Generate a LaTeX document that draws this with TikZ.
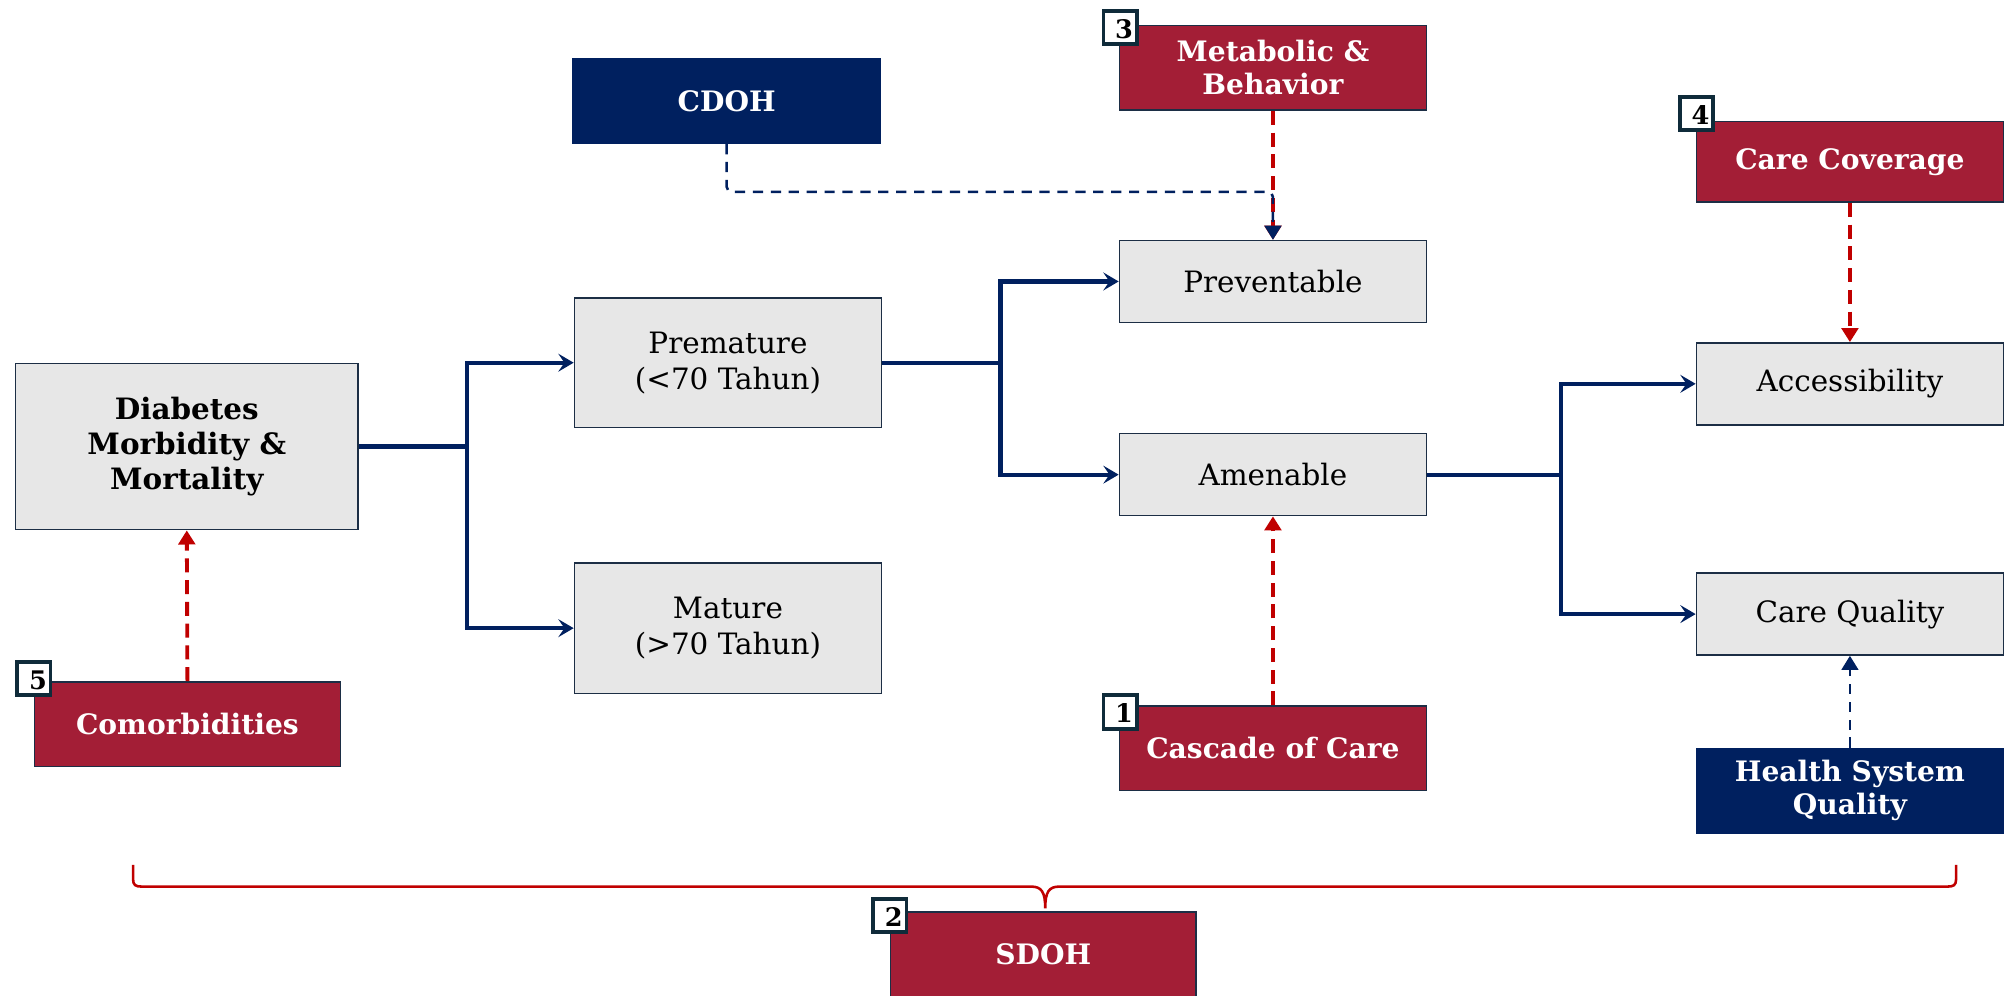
\documentclass[tikz,border=0pt]{standalone}
\usepackage{fontspec}
\setmainfont{DejaVu Serif}
\usetikzlibrary{arrows.meta}

\definecolor{navy}{HTML}{00205F}
\definecolor{crimson}{HTML}{A31E36}
\definecolor{dashred}{HTML}{C00000}
\definecolor{boxgray}{HTML}{E7E7E7}
\definecolor{edgeblue}{HTML}{1C2E45}
\definecolor{badgeedge}{HTML}{0F2B3A}

\tikzset{
  basebox/.style={draw=edgeblue, line width=0.6pt, inner sep=0pt, align=center,
    minimum width=120pt, minimum height=32pt},
  graybox/.style={basebox, fill=boxgray, text=black,
    font=\fontsize{11.5}{14}\selectfont},
  redbox/.style={basebox, fill=crimson, text=white,
    font=\fontsize{11}{13}\selectfont\bfseries},
  bluebox/.style={basebox, fill=navy, draw=navy, text=white,
    font=\fontsize{11}{13}\selectfont\bfseries},
  badge/.style={draw=badgeedge, line width=1.5pt, fill=white,
    minimum width=13pt, minimum height=13pt, inner sep=0pt},
  badgenum/.style={anchor=base east, inner sep=0pt, text=black,
    font=\fontsize{10}{12}\selectfont\bfseries},
  flow/.style={draw=navy, line width=1.6pt, line join=miter},
  flowtip/.style={flow, -{Stealth[length=6pt, width=7pt, inset=2.4pt]}},
  reddash/.style={draw=dashred, line width=1.5pt, dash pattern=on 5.5pt off 3pt,
    -{Triangle[length=5.5pt, width=6.5pt]}},
  bluedash/.style={draw=navy, line width=1pt, dash pattern=on 4pt off 3pt,
    -{Triangle[length=5.5pt, width=6.5pt]}},
}

\begin{document}
\begin{tikzpicture}[x=0.5pt, y=-0.5pt]
  \useasboundingbox (0,0) rectangle (1568,778);

  % outcome and pathway boxes
  \node[graybox, minimum width=134pt, minimum height=65pt, font=\fontsize{11.5}{13.75}\selectfont\bfseries]
    (diab) at (146,349) {Diabetes\\Morbidity \&\\Mortality};
  \node[graybox, minimum height=50.5pt] (prem) at (569,283.5) {Premature\\(<70 Tahun)};
  \node[graybox, minimum height=51pt] (mat) at (569,491) {Mature\\(>70 Tahun)};
  \node[graybox] (prev) at (995,220) {Preventable};
  \node[graybox] (amen) at (995,371) {Amenable};
  \node[graybox] (acc) at (1446,300) {Accessibility};
  \node[graybox] (cq) at (1446,480) {Care Quality};

  % determinant boxes
  \node[bluebox, minimum height=33pt] (cdoh) at (568,79) {CDOH};
  \node[redbox, minimum height=33pt] (meta) at (995,53) {Metabolic \&\\Behavior};
  \node[redbox, minimum height=31.5pt] (cov) at (1446,126.5) {Care Coverage};
  \node[redbox, minimum height=33pt] (casc) at (995,585) {Cascade of Care};
  \node[bluebox, minimum height=33pt] (hsq) at (1446,618) {Health System\\Quality};
  \node[redbox, minimum width=119.5pt, minimum height=33pt] (comor) at (146.5,566) {Comorbidities};
  \node[redbox, minimum width=119.5pt, minimum height=33pt] (sdoh) at (815.5,746) {SDOH};

  % numbered badges
  \node[badge] (b3) at (875.5,21.5) {};
  \node[badgenum] at ([xshift=-2pt, yshift=3pt]b3.south east) {3};
  \node[badge] (b4) at (1326,88.5) {};
  \node[badgenum] at ([xshift=-2pt, yshift=3pt]b4.south east) {4};
  \node[badge] (b1) at (875.5,556.5) {};
  \node[badgenum] at ([xshift=-2pt, yshift=3pt]b1.south east) {1};
  \node[badge] (b5) at (26.5,530.5) {};
  \node[badgenum] at ([xshift=-2pt, yshift=3pt]b5.south east) {5};
  \node[badge] (b2) at (695.5,715.5) {};
  \node[badgenum] at ([xshift=-2pt, yshift=3pt]b2.south east) {2};

  % branching connectors
  \coordinate (j1) at (365,349);
  \draw[flow] (diab.east) -- (j1);
  \draw[flowtip] (j1) |- (prem.west);
  \draw[flowtip] (j1) |- (mat.west);

  \coordinate (j2) at (782,283.5);
  \draw[flow] (prem.east) -- (j2);
  \draw[flowtip] (j2) |- (prev.west);
  \draw[flowtip] (j2) |- (amen.west);

  \coordinate (j3) at (1220,371);
  \draw[flow] (amen.east) -- (j3);
  \draw[flowtip] (j3) |- (acc.west);
  \draw[flowtip] (j3) |- (cq.west);

  % influence connectors
  \draw[reddash] (meta.south) -- (prev.north);
  \coordinate (cbend) at (568,150);
  \draw[bluedash, rounded corners=2pt] (cdoh.south) -- (cbend) -| (prev.north);
  \draw[reddash] (cov.south) -- (acc.north);
  \draw[reddash] (casc.north) -- (amen.south);
  \draw[reddash] (comor.north) -- (diab.south);
  \draw[bluedash] (hsq.north) -- (cq.south);

  % brace spanning the whole framework
  \coordinate (bl) at (104,676);
  \coordinate (br) at (1529,676);
  \coordinate (btip) at (817,710);
  \draw[dashred, line width=1pt]
    (bl) -- (104,687) .. controls (104,692) and (106,693) .. (111,693)
    -- (806,693) .. controls (814,693) and (817,697) .. (btip)
    .. controls (817,697) and (820,693) .. (828,693)
    -- (1522,693) .. controls (1527,693) and (1529,692) .. (1529,687) -- (br);
\end{tikzpicture}
\end{document}
